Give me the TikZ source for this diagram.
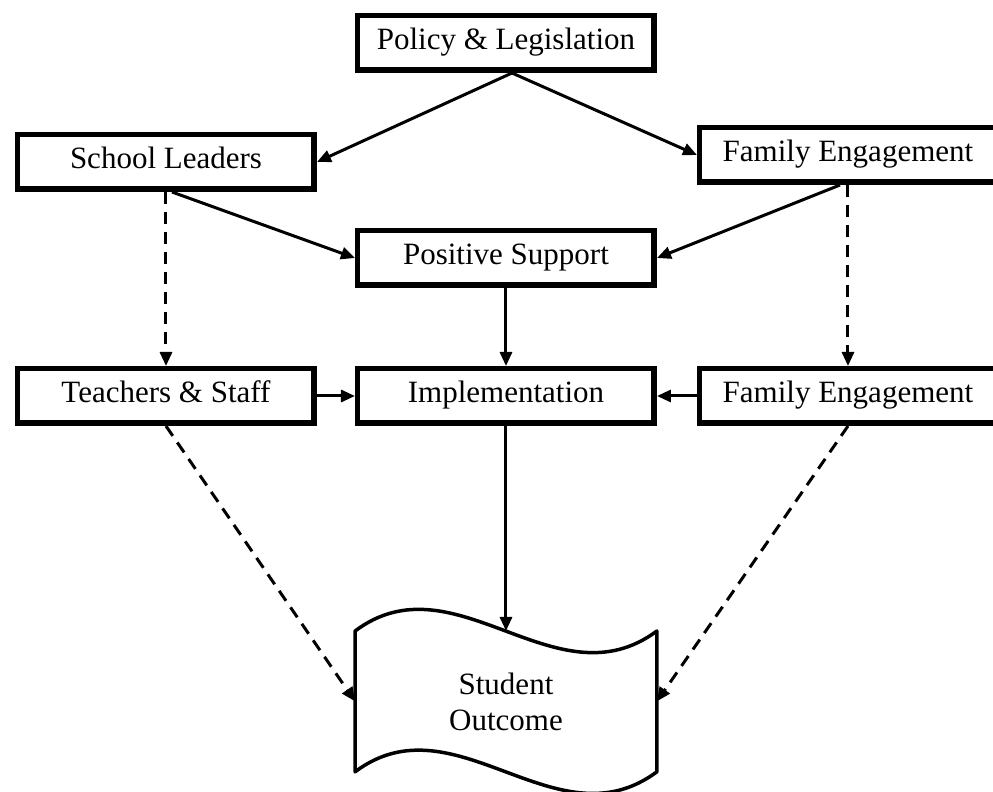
\documentclass[tikz,border=0pt]{standalone}
\usepackage{fontspec}
\setmainfont{Liberation Serif}
\usetikzlibrary{arrows.meta, positioning}

\begin{document}
\begin{tikzpicture}[
		font=\fontsize{15.5}{18}\selectfont,
		elem/.style={draw,rectangle,line width=2.75pt,minimum width=148.25pt,minimum height=27.25pt,inner sep=0pt,text height=10.5pt,text depth=3.5pt},
		sheet/.style={rectangle,align=center,minimum width=150.5pt,minimum height=70pt,inner sep=0pt},
		link/.style={line width=1.5pt,-{Triangle[length=7pt,width=6pt]}},
		weak/.style={link,dash pattern=on 6pt off 4pt}
	]
		\useasboundingbox (-253pt,21.5pt) rectangle (243.5pt,-374.5pt);
		\node (poli) [elem] at (0,0) {Policy \& Legislation};
		\node (posu) [elem,below=77.5pt of poli] {Positive Support};
		\node (impl) [elem,below=39pt of posu] {Implementation};
		\node (tech) [elem,left=19pt of impl] {Teachers \& Staff};
		\node (famb) [elem,right=20pt of impl] {Family Engagement};
		\node (lead) [elem,above=87pt of tech] {School Leaders};
		\node (fama) [elem,above=90.5pt of famb] {Family Engagement};
		\node (outc) [sheet,below=102.5pt of impl] {Student\\Outcome};
		% wavy sheet round the outcome
		\draw [line width=1.75pt,line join=round]
			(outc.north west) .. controls +(50pt,37.5pt) and +(-50.5pt,-37.5pt) .. (outc.north east)
			-- (outc.south east) .. controls +(-50.5pt,-37.5pt) and +(50pt,37.5pt) .. (outc.south west)
			-- cycle;
	
		\draw [link] ([xshift=3pt]poli.south) -- (lead.east);
		\draw [link] ([xshift=3pt]poli.south) -- (fama.west);
		\draw [link] ([xshift=3pt]lead.south) -- (posu.west);
		\draw [link] ([xshift=-4pt]fama.south) -- (posu.east);
		\draw [link] (posu) -- (impl);
		\draw [link] (tech) -- (impl);
		\draw [link] (famb) -- (impl);
		\draw [link] (impl) -- (outc.north);
		\draw [weak] (lead) -- (tech);
		\draw [weak] (fama) -- (famb);
		\draw [weak] (tech.south) -- (outc.west);
		\draw [weak] (famb.south) -- (outc.east);
	\end{tikzpicture}
\end{document}
